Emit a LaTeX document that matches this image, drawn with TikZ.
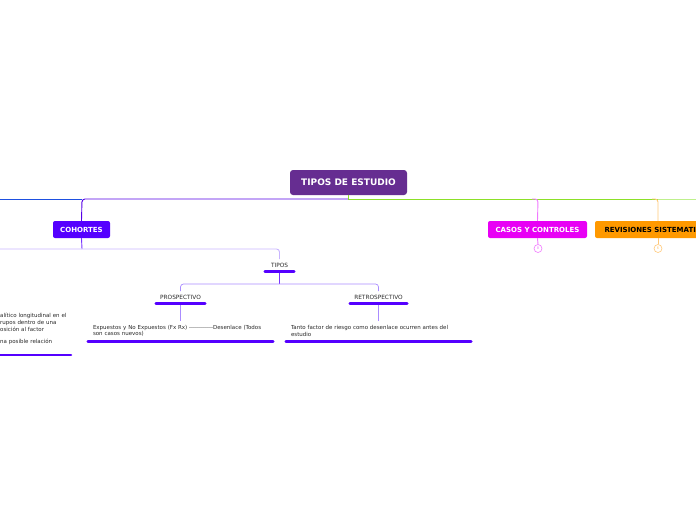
\documentclass[tikz,border=0pt]{standalone}
\usepackage{fontspec}
\setmainfont{DejaVu Sans}
\definecolor{mainc}{RGB}{102,45,145}
\definecolor{cohc}{RGB}{85,0,255}
\definecolor{casc}{RGB}{232,0,245}
\definecolor{revc}{RGB}{255,153,0}
\definecolor{greenl}{RGB}{140,224,40}
\definecolor{greenll}{RGB}{190,240,140}
\definecolor{bluel}{RGB}{30,80,224}
\definecolor{purl}{RGB}{85,0,230}
\definecolor{lav}{RGB}{200,180,255}
\definecolor{lav2}{RGB}{170,140,255}
\definecolor{pinkl}{RGB}{240,120,255}
\definecolor{orl}{RGB}{255,200,120}
\definecolor{txt}{RGB}{40,40,40}
\newcommand\hy{-{}}
\tikzset{
  mainbox/.style={fill=mainc, text=white, rounded corners=3pt, minimum width=117pt, minimum height=25pt, inner sep=0pt, font=\fontsize{9}{10}\selectfont\bfseries},
  subbox/.style={rounded corners=2pt, minimum height=17pt, inner sep=0pt, font=\fontsize{7}{8}\selectfont\bfseries},
  lbl/.style={inner sep=0pt, minimum height=12pt, text=txt, font=\fontsize{5.8}{6.5}\selectfont},
  para/.style={inner xsep=5pt, inner ysep=0pt, align=left, text=txt, font=\fontsize{5.5}{6.4}\selectfont},
  uline/.style={draw=cohc, line width=2.6pt, line cap=round},
  conn/.style={line width=0.9pt, rounded corners=3pt},
  cnt/.style={circle, draw=#1, line width=0.6pt, minimum size=8pt, inner sep=0pt, text=#1, font=\fontsize{3.5}{4}\selectfont},
}
\begin{document}
\begin{tikzpicture}[x=1pt,y=-1pt]
\useasboundingbox (0,0) rectangle (696,520);
\clip (0,0) rectangle (696,520);
% nodes
\node[mainbox] (main) at (348.5,182.5) {TIPOS DE ESTUDIO};
\node[subbox, fill=cohc, text=white, minimum width=57pt] (coh) at (81.5,229.5) {COHORTES};
\node[subbox, fill=casc, text=white, minimum width=99pt] (cas) at (537.5,229.5) {CASOS Y CONTROLES};
\node[subbox, fill=revc, text=black, minimum width=126pt] (rev) at (658,229.5) {REVISIONES SISTEMATICAS};
\node[cnt=pinkl] (cascnt) at (538,248.5) {8};
\node[cnt=orl] (revcnt) at (658,248.5) {6};
\node[lbl, minimum width=29pt] (tipos) at (279.5,265) {TIPOS};
\node[lbl, minimum width=49pt] (pro) at (180.5,297) {PROSPECTIVO};
\node[lbl, minimum width=57pt] (ret) at (378.5,297) {RETROSPECTIVO};
\node[para, text width=175pt, minimum height=20pt, minimum width=185pt] (pt) at (180.5,331) {Expuestos y No Expuestos (Fx Rx) \hy\hy\hy\hy\hy\hy\hy\hy\hy\hy\hy\hy Desenlace (Todos\\son casos nuevos)};
\node[para, text width=175pt, minimum height=20pt, minimum width=185pt] (rt) at (378.5,331) {Tanto factor de riesgo como desenlace ocurren antes del\\estudio};
\node[para, anchor=north west, inner xsep=0pt, text width=90pt, font=\fontsize{5.5}{7}\selectfont] (lt) at (0,313) {alítico longitudinal en el\\rupos dentro de una\\osición al factor\\[5pt]na posible relación};
\coordinate (lu1) at (-5,355);
\coordinate (lu2) at (71,355);
% bus coordinates
\coordinate (bus) at (348,199);
\coordinate (busL) at (-2,199);
\coordinate (busR) at (698,199);
\coordinate (cohL) at (-2,249);
% connectors
\draw[greenl, line width=0.9pt] (main.south -| bus) -- (bus);
\draw[greenl, line width=0.9pt] (bus) -- (658,199);
\draw[greenll, line width=0.9pt] (658,199) -- (busR);
\draw[bluel, line width=0.9pt] (busL) -- (82,199);
\draw[purl, conn] (bus) -- (82,199) -- (coh.north);
\draw[pinkl, conn] (532,199) -- (538,199) -- (cas.north);
\draw[orl, conn] (652,199) -- (658,199) -- (rev.north);
\draw[pinkl, line width=0.9pt] (cas.south) -- (cascnt.north);
\draw[orl, line width=0.9pt] (rev.south) -- (revcnt.north);
\draw[cohc!80, line width=0.9pt] (coh.south) -- (82,249);
\draw[lav, conn] (cohL) -- (279.5,249) -- (279.5,259);
\draw[cohc!80, line width=0.7pt] (tipos.south) -- (279.5,284);
\draw[lav2, conn, line width=0.7pt] (180.5,291) -- (180.5,284) -- (378.5,284) -- (378.5,291);
\draw[lav2, line width=0.7pt] (pro.south) -- (pt.north);
\draw[lav2, line width=0.7pt] (ret.south) -- (rt.north);
% underlines
\draw[uline] (tipos.south west) -- (tipos.south east);
\draw[uline] (pro.south west) -- (pro.south east);
\draw[uline] (ret.south west) -- (ret.south east);
\draw[uline] (pt.south west) -- (pt.south east);
\draw[uline] (rt.south west) -- (rt.south east);
\draw[uline] (lu1) -- (lu2);
\end{tikzpicture}
\end{document}
